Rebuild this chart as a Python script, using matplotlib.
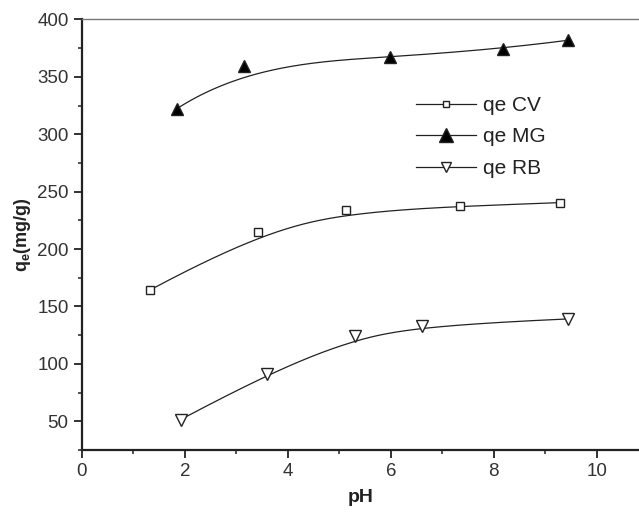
import numpy as np
import matplotlib
matplotlib.use("Agg")
import matplotlib.pyplot as plt
from matplotlib.ticker import MultipleLocator

plt.rcParams['font.family'] = ['Liberation Sans', 'DejaVu Sans']

ph_cv = [1.33, 3.42, 5.14, 7.34, 9.29]
qe_cv = [164.5, 214.5, 233.7, 237.2, 240.5]
ph_mg = [1.85, 3.15, 5.99, 8.18, 9.44]
qe_mg = [322.4, 359.8, 367.0, 374.6, 381.9]
ph_rb = [1.92, 3.59, 5.30, 6.60, 9.45]
qe_rb = [51.5, 91.2, 124.0, 133.3, 139.2]


def bspline(xs, ys, n=200, k=3):
    P = np.column_stack([xs, ys])
    m = len(P)
    k = min(k, m - 1)
    inner = np.linspace(0, 1, m - k + 1)[1:-1]
    t = np.concatenate([np.zeros(k + 1), inner, np.ones(k + 1)])
    u = np.linspace(0, 1, n)
    u[-1] = 1 - 1e-10

    def N(i, p, uu):
        if p == 0:
            return np.where((t[i] <= uu) & (uu < t[i + 1]), 1.0, 0.0)
        a = 0.0
        if t[i + p] != t[i]:
            a = (uu - t[i]) / (t[i + p] - t[i]) * N(i, p - 1, uu)
        b = 0.0
        if t[i + p + 1] != t[i + 1]:
            b = (t[i + p + 1] - uu) / (t[i + p + 1] - t[i + 1]) * N(i + 1, p - 1, uu)
        return a + b

    C = np.zeros((n, 2))
    for i in range(m):
        C += N(i, k, u)[:, None] * P[i]
    return C[:, 0], C[:, 1]


fig = plt.figure(figsize=(6.39, 5.17), dpi=100)
ax = fig.add_axes([0.128, 0.1296, 0.872, 0.8327])

# (x, y, marker, face, data size, legend size, label)
series = [
    (ph_cv, qe_cv, 's', 'white', 5.5, 5.0, 'qe CV'),
    (ph_mg, qe_mg, '^', 'black', 9, 9.5, 'qe MG'),
    (ph_rb, qe_rb, 'v', 'white', 8.5, 7.5, 'qe RB'),
]
for xs, ys, mk, fc, ms, lms, lab in series:
    cx, cy = bspline(xs, ys)
    ax.plot(cx, cy, color='#222222', lw=0.9, zorder=2)
    ax.plot(xs, ys, linestyle='none', marker=mk, markersize=ms,
            markerfacecolor=fc, markeredgecolor='#222222', markeredgewidth=1.0, zorder=3)
    ax.plot([], [], color='#222222', lw=0.9, marker=mk, markersize=lms,
            markerfacecolor=fc, markeredgecolor='#222222', markeredgewidth=1.0, label=lab)

ax.set_xlim(0, 10.82)
ax.set_ylim(25, 400)
ax.xaxis.set_major_locator(MultipleLocator(2))
ax.xaxis.set_minor_locator(MultipleLocator(1))
ax.yaxis.set_minor_locator(MultipleLocator(25))
ax.set_yticks([50, 100, 150, 200, 250, 300, 350, 400])

for s in ['left', 'bottom']:
    ax.spines[s].set_linewidth(1.6)
    ax.spines[s].set_color('#222222')
ax.spines['right'].set_visible(False)
ax.spines['top'].set_color('#777777')
ax.spines['top'].set_linewidth(1.0)

ax.tick_params(which='major', direction='out', length=5.5, width=1.3, color='#222222',
               labelsize=13.5, labelcolor='#333333', top=False, right=False, pad=4)
ax.tick_params(which='minor', direction='out', length=3, width=1.1, color='#222222',
               top=False, right=False)

ax.set_xlabel('pH', fontsize=14, fontweight='bold', color='#222222', labelpad=6)
ax.set_ylabel(r'q$_\mathregular{e}$(mg/g)', fontsize=13, fontweight='bold', color='#222222', labelpad=3)

leg = ax.legend(loc='upper left', bbox_to_anchor=(416 / 639, 1 - 96 / 517),
                bbox_transform=fig.transFigure, frameon=False, borderpad=0, borderaxespad=0,
                fontsize=15, handlelength=2.9, handletextpad=0.3, labelspacing=0.6,
                labelcolor='#222222')

fig.savefig('out.png', dpi=100)
